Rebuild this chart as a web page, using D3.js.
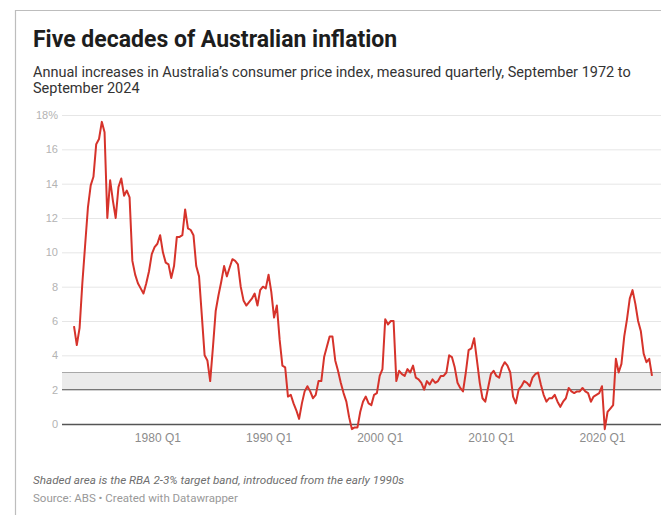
<!DOCTYPE html>
<html>
<head>
<meta charset="utf-8">
<script src="https://cdn.jsdelivr.net/npm/d3@7"></script>
<style>
  body { margin: 0; background: #fff; }
  svg { display: block; font-family: Roboto, "Noto Sans", sans-serif; }
  .title { font-size: 23px; font-weight: 700; fill: #1d1d1d; }
  .subtitle { font-size: 14.5px; fill: #333; }
  .y-axis text { font-size: 11px; fill: #b3b3b3; }
  .x-axis text { font-size: 12px; fill: #8c8c8c; }
  .note { font-size: 11.7px; font-style: italic; fill: #6e6e6e; }
  .source { font-size: 11.5px; fill: #999; }
</style>
</head>
<body>
<div id="chart"></div>
<script>
// Annual CPI change (%), quarterly, Sep 1972 (Q3) to Sep 2024 (Q3)
const firstYear = 1972;
const firstQuarter = 3;
const cpi = [
  5.7, 4.6, 5.6, 8.2, 10.4, 12.6, 13.9, 14.4, 16.3, 16.6,   // 1972 Q3 - 1974 Q4
  17.6, 17.0, 12.0, 14.2, 13.0, 12.0, 13.8, 14.3, 13.3, 13.6, // 1975 Q1 - 1977 Q2
  13.2, 9.5, 8.7, 8.2, 7.9, 7.6, 8.2, 8.9, 9.9, 10.3,         // 1977 Q3 - 1979 Q4
  10.5, 11.0, 10.0, 9.4, 9.3, 8.5, 9.2, 10.9, 10.9, 11.0,     // 1980 Q1 - 1982 Q2
  12.5, 11.4, 11.3, 11.0, 9.2, 8.6, 6.3, 4.0, 3.7, 2.5,       // 1982 Q3 - 1984 Q4
  4.5, 6.6, 7.5, 8.3, 9.2, 8.6, 9.1, 9.6, 9.5, 9.3,           // 1985 Q1 - 1987 Q2
  8.0, 7.2, 6.9, 7.1, 7.3, 7.6, 6.9, 7.8, 8.0, 7.9,           // 1987 Q3 - 1989 Q4
  8.7, 7.7, 6.2, 6.9, 4.9, 3.4, 3.3, 1.6, 1.7, 1.2,           // 1990 Q1 - 1992 Q2
  0.8, 0.3, 1.2, 1.9, 2.2, 1.9, 1.5, 1.7, 2.5, 2.5,           // 1992 Q3 - 1994 Q4
  3.9, 4.5, 5.1, 5.1, 3.7, 3.1, 2.4, 1.8, 1.3, 0.4,           // 1995 Q1 - 1997 Q2
  -0.3, -0.2, -0.2, 0.7, 1.3, 1.6, 1.2, 1.1, 1.7, 1.8,        // 1997 Q3 - 1999 Q4
  2.8, 3.2, 6.1, 5.8, 6.0, 6.0, 2.5, 3.1, 2.9, 2.8,           // 2000 Q1 - 2002 Q2
  3.2, 3.0, 3.4, 2.7, 2.6, 2.4, 2.0, 2.5, 2.3, 2.6,           // 2002 Q3 - 2004 Q4
  2.4, 2.5, 2.8, 2.8, 3.0, 4.0, 3.9, 3.3, 2.4, 2.1,           // 2005 Q1 - 2007 Q2
  1.9, 3.0, 4.3, 4.4, 5.0, 3.7, 2.4, 1.5, 1.3, 2.1,           // 2007 Q3 - 2009 Q4
  2.9, 3.1, 2.8, 2.7, 3.3, 3.6, 3.4, 3.0, 1.6, 1.2,           // 2010 Q1 - 2012 Q2
  2.0, 2.2, 2.5, 2.4, 2.2, 2.7, 2.9, 3.0, 2.3, 1.7,           // 2012 Q3 - 2014 Q4
  1.3, 1.5, 1.5, 1.7, 1.3, 1.0, 1.3, 1.5, 2.1, 1.9,           // 2015 Q1 - 2017 Q2
  1.8, 1.9, 1.9, 2.1, 1.9, 1.8, 1.3, 1.6, 1.7, 1.8,           // 2017 Q3 - 2019 Q4
  2.2, -0.3, 0.7, 0.9, 1.1, 3.8, 3.0, 3.5, 5.1, 6.1,          // 2020 Q1 - 2022 Q2
  7.3, 7.8, 7.0, 6.0, 5.4, 4.1, 3.6, 3.8, 2.8                 // 2022 Q3 - 2024 Q3
];
const yTicks = [0, 2, 4, 6, 8, 10, 12, 14, 16, 18];
const xTickYears = [1980, 1990, 2000, 2010, 2020];
const xTickLabels = ["1980 Q1", "1990 Q1", "2000 Q1", "2010 Q1", "2020 Q1"];
const band = [2, 3];

const width = 661, height = 515;

// quarter start date for each value
function quarterDate(i) {
  const q = (firstQuarter - 1) + i;
  return new Date(firstYear + Math.floor(q / 4), (q % 4) * 3, 1);
}
const data = cpi.map(function(v, i) { return { date: quarterDate(i), value: v }; });

const svg = d3.select("#chart").append("svg")
  .attr("width", width)
  .attr("height", height);

// frame
svg.append("path")
  .attr("d", "M15.5," + height + "V10.5H" + width)
  .attr("fill", "none")
  .attr("stroke", "#bdbdbd")
  .attr("stroke-width", 1.2);

// titles
svg.append("text").attr("class", "title").attr("x", 33).attr("y", 46.5)
  .text("Five decades of Australian inflation");
svg.append("text").attr("class", "subtitle").attr("x", 33).attr("y", 77)
  .text("Annual increases in Australia\u2019s consumer price index, measured quarterly, September 1972 to");
svg.append("text").attr("class", "subtitle").attr("x", 33).attr("y", 93)
  .text("September 2024");

const plotLeft = 62, plotRight = width;
const x = d3.scaleTime()
  .domain(d3.extent(data, function(d) { return d.date; }))
  .range([74, 652]);
const y = d3.scaleLinear()
  .domain([0, 18])
  .range([424, 115]);

// gridlines + y labels
const yAxis = svg.append("g")
  .attr("class", "y-axis")
  .attr("transform", "translate(" + plotLeft + ",0)")
  .call(d3.axisLeft(y)
    .tickValues(yTicks)
    .tickSize(-(plotRight - plotLeft))
    .tickPadding(4)
    .tickFormat(function(d) { return d === 18 ? "18%" : d; }));
yAxis.select(".domain").remove();
yAxis.selectAll(".tick line")
  .attr("stroke", function(d) { return d === 0 ? "#555" : "#e6e6e6"; })
  .attr("stroke-width", function(d) { return d === 0 ? 1.3 : 1; });

// RBA target band
svg.append("rect")
  .attr("x", plotLeft)
  .attr("y", y(band[1]))
  .attr("width", plotRight - plotLeft)
  .attr("height", y(band[0]) - y(band[1]))
  .attr("fill", "#ebebeb");
svg.append("line")
  .attr("x1", plotLeft).attr("x2", plotRight)
  .attr("y1", y(band[1])).attr("y2", y(band[1]))
  .attr("stroke", "#a8a8a8").attr("stroke-width", 1.2);
svg.append("line")
  .attr("x1", plotLeft).attr("x2", plotRight)
  .attr("y1", y(band[0])).attr("y2", y(band[0]))
  .attr("stroke", "#777").attr("stroke-width", 1.2);

// x axis labels
const xAxis = svg.append("g")
  .attr("class", "x-axis")
  .attr("transform", "translate(0,430)")
  .call(d3.axisBottom(x)
    .tickValues(xTickYears.map(function(yr) { return new Date(yr, 0, 1); }))
    .tickSize(0)
    .tickPadding(3)
    .tickFormat(function(d, i) { return xTickLabels[i]; }));
xAxis.select(".domain").remove();

// line
const line = d3.line()
  .x(function(d) { return x(d.date); })
  .y(function(d) { return y(d.value); });
svg.append("path")
  .datum(data)
  .attr("fill", "none")
  .attr("stroke", "#d6332b")
  .attr("stroke-width", 2)
  .attr("stroke-linejoin", "round")
  .attr("d", line);

// footer
svg.append("text").attr("class", "note").attr("x", 33).attr("y", 484)
  .text("Shaded area is the RBA 2-3% target band, introduced from the early 1990s");
svg.append("text").attr("class", "source").attr("x", 33).attr("y", 501.5)
  .text("Source: ABS \u2022 Created with Datawrapper");
</script>
</body>
</html>
